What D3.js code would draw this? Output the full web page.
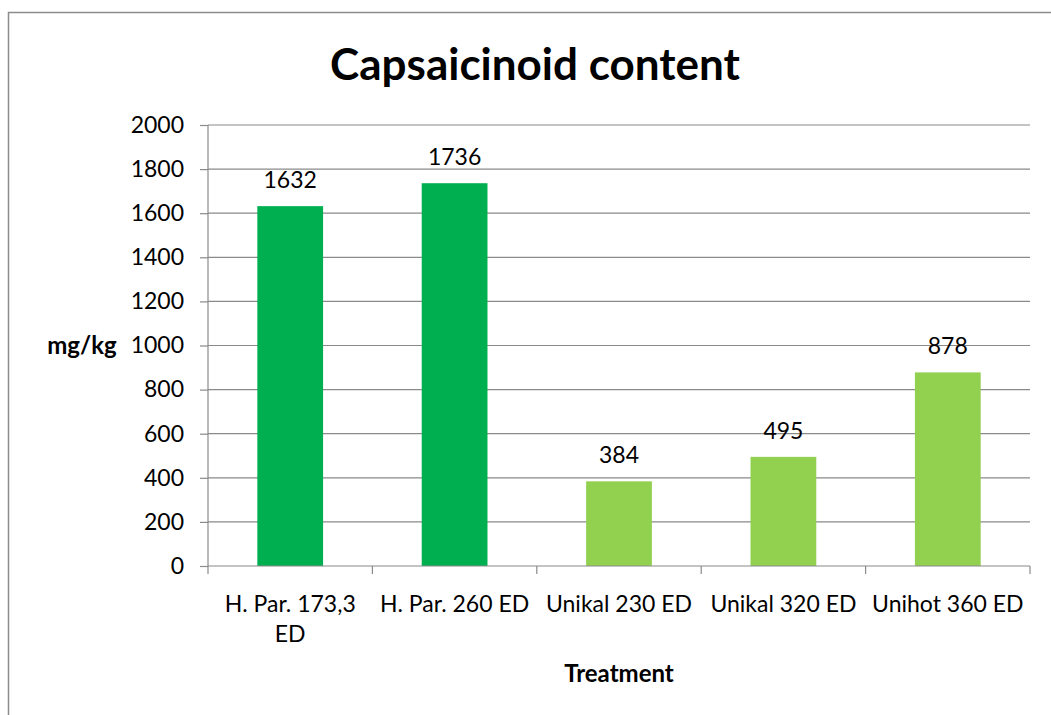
<!DOCTYPE html>
<html>
<head>
<meta charset="utf-8">
<script src="https://cdn.jsdelivr.net/npm/d3@7"></script>
<style>
  body { margin: 0; background: #fff; }
  svg { display: block; font-family: Lato, 'Open Sans', sans-serif; }
</style>
</head>
<body>
<svg id="viz"></svg>
<script>
const categories = [
  ['H. Par. 173,3', 'ED'],
  ['H. Par. 260 ED'],
  ['Unikal 230 ED'],
  ['Unikal 320 ED'],
  ['Unihot 360 ED'],
];
const values = [1632, 1736, 384, 495, 878];
const barColors = ['#00b050', '#00b050', '#92d050', '#92d050', '#92d050'];
const yTicks = [0, 200, 400, 600, 800, 1000, 1200, 1400, 1600, 1800, 2000];

const width = 1051;
const height = 715;
const margin = { top: 125, right: 21, bottom: 149, left: 208 };
const innerW = width - margin.left - margin.right;
const innerH = height - margin.top - margin.bottom;
const fontSize = 23;

const svg = d3.select('#viz').attr('width', width).attr('height', height);

// outer chart border
svg
  .append('rect')
  .attr('x', 8.5)
  .attr('y', 12.5)
  .attr('width', 1100)
  .attr('height', 800)
  .attr('fill', 'none')
  .attr('stroke', '#8c8c8c')
  .attr('stroke-width', 1.5);

const g = svg
  .append('g')
  .attr('transform', 'translate(' + margin.left + ',' + margin.top + ')');

const x = d3
  .scaleBand()
  .domain(d3.range(values.length))
  .range([0, innerW])
  .paddingInner(0.6)
  .paddingOuter(0.3);

const y = d3.scaleLinear().domain([0, 2000]).range([innerH, 0]);

// gridlines
g.append('g')
  .selectAll('line')
  .data(yTicks.slice(1))
  .join('line')
  .attr('x1', 0)
  .attr('x2', innerW)
  .attr('y1', (d) => y(d))
  .attr('y2', (d) => y(d))
  .attr('stroke', '#8a8a8a')
  .attr('stroke-width', 1.2);

// y axis
const yAxis = g
  .append('g')
  .call(
    d3
      .axisLeft(y)
      .tickValues(yTicks)
      .tickFormat(d3.format('d'))
      .tickSize(8)
      .tickPadding(16)
  );
yAxis
  .select('.domain')
  .attr('stroke', '#8a8a8a')
  .attr('stroke-width', 1.2)
  .attr('d', 'M0,' + innerH + 'V0');
yAxis.selectAll('.tick line').attr('stroke', '#8a8a8a').attr('stroke-width', 1.2);
yAxis
  .selectAll('.tick text')
  .attr('font-size', fontSize)
  .attr('font-family', 'Lato, sans-serif')
  .attr('fill', '#000');

// bars
g.append('g')
  .selectAll('rect')
  .data(values)
  .join('rect')
  .attr('x', (d, i) => x(i))
  .attr('y', (d) => y(d))
  .attr('width', x.bandwidth())
  .attr('height', (d) => innerH - y(d))
  .attr('fill', (d, i) => barColors[i]);

// value labels
g.append('g')
  .selectAll('text')
  .data(values)
  .join('text')
  .attr('x', (d, i) => x(i) + x.bandwidth() / 2)
  .attr('y', (d) => y(d) - 18)
  .attr('text-anchor', 'middle')
  .attr('font-size', fontSize)
  .text((d) => d);

// x axis baseline and ticks
const step = innerW / values.length;
const xAxis = g.append('g').attr('transform', 'translate(0,' + innerH + ')');
xAxis
  .append('line')
  .attr('x1', 0)
  .attr('x2', innerW)
  .attr('stroke', '#8a8a8a')
  .attr('stroke-width', 1.2);
xAxis
  .selectAll('.xt')
  .data(d3.range(values.length + 1))
  .join('line')
  .attr('x1', (d) => d * step)
  .attr('x2', (d) => d * step)
  .attr('y1', 0)
  .attr('y2', 8)
  .attr('stroke', '#8a8a8a')
  .attr('stroke-width', 1.2);

// category labels
const catText = xAxis
  .selectAll('.cat')
  .data(categories)
  .join('text')
  .attr('text-anchor', 'middle')
  .attr('font-size', fontSize)
  .attr('y', 46);
catText
  .selectAll('tspan')
  .data((d, i) => d.map((line) => ({ line, i })))
  .join('tspan')
  .attr('x', (d) => x(d.i) + x.bandwidth() / 2)
  .attr('dy', (d, j) => (j === 0 ? 0 : 30))
  .text((d) => d.line);

// titles
svg
  .append('text')
  .attr('x', 535)
  .attr('y', 80)
  .attr('text-anchor', 'middle')
  .attr('font-size', 44)
  .attr('font-weight', 'bold')
  .text('Capsaicinoid content');

svg
  .append('text')
  .attr('x', 82)
  .attr('y', 354)
  .attr('text-anchor', 'middle')
  .attr('font-size', 24)
  .attr('font-weight', 'bold')
  .text('mg/kg');

svg
  .append('text')
  .attr('x', margin.left + innerW / 2)
  .attr('y', 682)
  .attr('text-anchor', 'middle')
  .attr('font-size', 24)
  .attr('font-weight', 'bold')
  .text('Treatment');
</script>
</body>
</html>
